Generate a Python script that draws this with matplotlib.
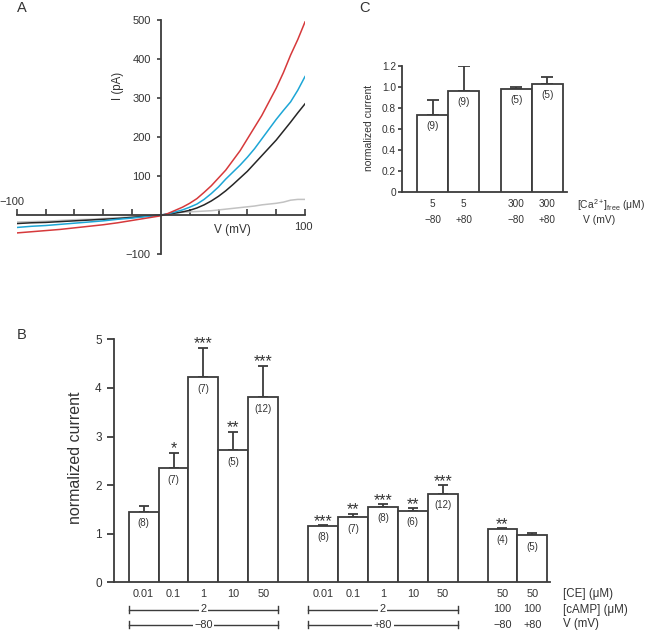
import matplotlib.pyplot as plt
from matplotlib import transforms

plt.rcParams['font.family'] = ['Liberation Sans', 'DejaVu Sans']
plt.rcParams['mathtext.fontset'] = 'custom'
plt.rcParams['mathtext.rm'] = 'Liberation Sans'
plt.rcParams['mathtext.it'] = 'Liberation Sans:italic'
plt.rcParams['text.color'] = '#333333'
plt.rcParams['xtick.color'] = '#333333'
plt.rcParams['ytick.color'] = '#333333'

# ---- panel A: I-V traces (pA vs mV)
volts = [-100, -90, -80, -70, -60, -50, -40, -30, -20, -10,
         0, 5, 10, 15, 20, 25, 30, 35, 40, 45, 50, 55, 60, 65, 70, 75, 80, 85, 90, 95, 100]
i_red = [-46, -43, -40, -37, -33, -29, -25, -20, -14, -8,
         -2, 4, 12, 20, 30, 42, 58, 75, 95, 115, 140, 165, 195, 225, 255, 290, 325, 365, 410, 450, 495]
i_cyan = [-32, -29, -27, -24, -21, -18, -15, -11, -8, -4,
          0, 3, 8, 13, 20, 28, 40, 55, 72, 92, 110, 128, 148, 170, 195, 220, 245, 268, 290, 320, 355]
i_black = [-22, -20, -19, -17, -15, -13, -11, -9, -6, -3,
           0, 2, 5, 8, 12, 18, 26, 36, 48, 62, 78, 95, 112, 132, 152, 172, 192, 215, 238, 262, 285]
i_grey = [-18, -17, -16, -14, -12, -11, -9, -7, -5, -2,
          0, 3, 5, 7, 8, 9, 10, 11, 13, 15, 17, 19, 21, 23, 26, 28, 30, 33, 38, 40, 40]

# ---- panel B
b_pos = [0, 1, 2, 3, 4, 6, 7, 8, 9, 10, 12, 13]
b_mean = [1.45, 2.35, 4.22, 2.72, 3.81, 1.16, 1.34, 1.55, 1.47, 1.82, 1.10, 0.97]
b_top = [1.56, 2.67, 4.83, 3.10, 4.46, 1.18, 1.41, 1.61, 1.53, 2.00, 1.12, 1.01]
b_n = ['(8)', '(7)', '(7)', '(5)', '(12)', '(8)', '(7)', '(8)', '(6)', '(12)', '(4)', '(5)']
b_star = ['', '*', '***', '**', '***', '***', '**', '***', '**', '***', '**', '']
b_ce = ['0.01', '0.1', '1', '10', '50', '0.01', '0.1', '1', '10', '50', '50', '50']
b_groups = [(-0.5, 4.5, '2', '\u221280'), (5.5, 10.5, '2', '+80')]
b_camp_single = ['100', '100']
b_v_single = ['\u221280', '+80']
b_single_pos = [12, 13]

# ---- panel C
c_pos = [0, 1, 2.7, 3.7]
c_mean = [0.73, 0.96, 0.98, 1.03]
c_top = [0.87, 1.20, 1.00, 1.09]
c_n = ['(9)', '(9)', '(5)', '(5)']
c_ca = ['5', '5', '300', '300']
c_v = ['\u221280', '+80', '\u221280', '+80']

W, H = 650, 632
AX = '#3c3c3c'
fig = plt.figure(figsize=(6.5, 6.32), dpi=100)


def box(l, t, r, b):
    return fig.add_axes([l / W, 1 - b / H, (r - l) / W, (b - t) / H])


def fy(py):
    return 1 - py / H


def fx(px):
    return px / W


# ================= A
ax = box(16.7, 20, 305, 254)
ax.patch.set_visible(False)
ax.plot(volts, i_grey, color='#c2c2c2', lw=1.1)
ax.plot(volts, i_black, color='#262626', lw=1.1)
ax.plot(volts, i_cyan, color='#1da6d6', lw=1.1)
ax.plot(volts, i_red, color='#d6393b', lw=1.1)
ax.set_xlim(-100, 100)
ax.set_ylim(-100, 500)
for s in ['top', 'right']:
    ax.spines[s].set_visible(False)
ax.spines['left'].set_position(('data', 0))
ax.spines['bottom'].set_position(('data', 0))
for s in ['left', 'bottom']:
    ax.spines[s].set_color(AX)
    ax.spines[s].set_linewidth(1.3)
ax.set_xticks([-100, -80, -60, -40, -20, 20, 40, 60, 80, 100])
ax.tick_params(axis='x', direction='in', length=4.5, width=1.2, color=AX, labelbottom=False)
ax.set_yticks([-100, 100, 200, 300, 400, 500],
              ['\u2212100', '100', '200', '300', '400', '500'])
ax.tick_params(axis='y', direction='out', length=3, width=1.2, color=AX, pad=4.3, labelsize=8)
ax.text(-103, 34, '\u2212100', ha='center', va='center', fontsize=8)
ax.text(99, -30, '100', ha='center', va='center', fontsize=8)
ax.text(50, -38, 'V (mV)', ha='center', va='center', fontsize=8.5)
ax.text(-30, 330, 'I (pA)', ha='center', va='center', fontsize=8.3, rotation=90)

# ================= B
ax = box(114.3, 339.3, 550, 582.3)
ax.bar(b_pos, b_mean, width=1.0, color='white', edgecolor=AX, linewidth=1.3, zorder=3)
ax.errorbar(b_pos, b_mean, yerr=[[0] * len(b_mean), [t - m for t, m in zip(b_top, b_mean)]],
            fmt='none', ecolor=AX, elinewidth=1.3, capsize=3.6, capthick=1.3, zorder=2)
for p, m, t, n, st in zip(b_pos, b_mean, b_top, b_n, b_star):
    ax.annotate(n, (p, m), xytext=(0, -8.3), textcoords='offset points',
                ha='center', va='center', fontsize=7, zorder=4)
    if st:
        ax.annotate(st, (p, t), xytext=(0, -0.6), textcoords='offset points',
                    ha='center', va='baseline', fontsize=11.5)
ax.set_xlim(-0.98, 13.59)
ax.set_ylim(0, 5)
for s in ['top', 'right']:
    ax.spines[s].set_visible(False)
for s in ['left', 'bottom']:
    ax.spines[s].set_color(AX)
    ax.spines[s].set_linewidth(1.3)
ax.set_xticks([])
ax.set_yticks(range(6))
ax.tick_params(axis='y', direction='out', length=4.8, width=1.3, color=AX, pad=4.3, labelsize=8.5)

tr = transforms.blended_transform_factory(ax.transData, fig.transFigure)
for p, lab in zip(b_pos, b_ce):
    ax.text(p, fy(594), lab, transform=tr, ha='center', va='center', fontsize=7.8)
for x0, x1, camp, v in b_groups:
    for row, lab in [(609.5, camp), (624.5, v)]:
        y = fy(row)
        dy = 3.3 / H
        ax.plot([x0, x1], [y, y], transform=tr, color=AX, lw=1.0, clip_on=False)
        ax.plot([x0, x0], [y - dy, y + dy], transform=tr, color=AX, lw=1.0, clip_on=False)
        ax.plot([x1, x1], [y - dy, y + dy], transform=tr, color=AX, lw=1.0, clip_on=False)
        ax.text((x0 + x1) / 2, y, lab, transform=tr, ha='center', va='center', fontsize=7.8,
                bbox=dict(facecolor='white', edgecolor='none', pad=1.2))
for p, c, v in zip(b_single_pos, b_camp_single, b_v_single):
    ax.text(p, fy(609.5), c, transform=tr, ha='center', va='center', fontsize=7.8)
    ax.text(p, fy(624.5), v, transform=tr, ha='center', va='center', fontsize=7.8)
ax.set_xlim(-0.98, 13.59)
ax.set_ylim(0, 5)
fig.text(fx(563), fy(594), '[CE] (\u03bcM)', va='center', fontsize=8.3)
fig.text(fx(563), fy(609.5), '[cAMP] (\u03bcM)', va='center', fontsize=8.3)
fig.text(fx(563), fy(624.5), 'V (mV)', va='center', fontsize=8.3)
fig.text(fx(75), fy(458), 'normalized current', rotation=90, ha='center', va='center', fontsize=11.5)

# ================= C
ax = box(401.7, 65.7, 567.3, 192)
ax.bar(c_pos, c_mean, width=1.0, color='white', edgecolor=AX, linewidth=1.3, zorder=3)
ax.errorbar(c_pos, c_mean, yerr=[[0] * len(c_mean), [t - m for t, m in zip(c_top, c_mean)]],
            fmt='none', ecolor=AX, elinewidth=1.3, capsize=4, capthick=1.3, zorder=2)
for p, m, n in zip(c_pos, c_mean, c_n):
    ax.annotate(n, (p, m), xytext=(0, -8), textcoords='offset points',
                ha='center', va='center', fontsize=7.2, zorder=4)
ax.set_xlim(-1.0, 4.34)
ax.set_ylim(0, 1.2)
for s in ['top', 'right']:
    ax.spines[s].set_visible(False)
for s in ['left', 'bottom']:
    ax.spines[s].set_color(AX)
    ax.spines[s].set_linewidth(1.3)
ax.set_xticks([])
ax.set_yticks([0, 0.2, 0.4, 0.6, 0.8, 1.0, 1.2], ['0', '0.2', '0.4', '0.6', '0.8', '1.0', '1.2'])
ax.tick_params(axis='y', direction='out', length=2.6, width=1.2, color=AX, pad=1.5, labelsize=7.3)
tr = transforms.blended_transform_factory(ax.transData, fig.transFigure)
for p, a, v in zip(c_pos, c_ca, c_v):
    ax.text(p, fy(204), a, transform=tr, ha='center', va='center', fontsize=7.2)
    ax.text(p, fy(220), v, transform=tr, ha='center', va='center', fontsize=7.2)
fig.text(fx(577), fy(205), '[Ca$^{2+}$]$_{\\mathrm{free}}$ (\u03bcM)', va='center', fontsize=7.4)
fig.text(fx(583), fy(220), 'V (mV)', va='center', fontsize=7.4)
fig.text(fx(369), fy(128), 'normalized current', rotation=90, ha='center', va='center', fontsize=7.5)

# panel letters
fig.text(fx(22), fy(8), 'A', ha='center', va='center', fontsize=10.5)
fig.text(fx(364), fy(8), 'C', ha='center', va='center', fontsize=10.5)
fig.text(fx(22), fy(335), 'B', ha='center', va='center', fontsize=10.5)

fig.savefig('out.png', dpi=100)
